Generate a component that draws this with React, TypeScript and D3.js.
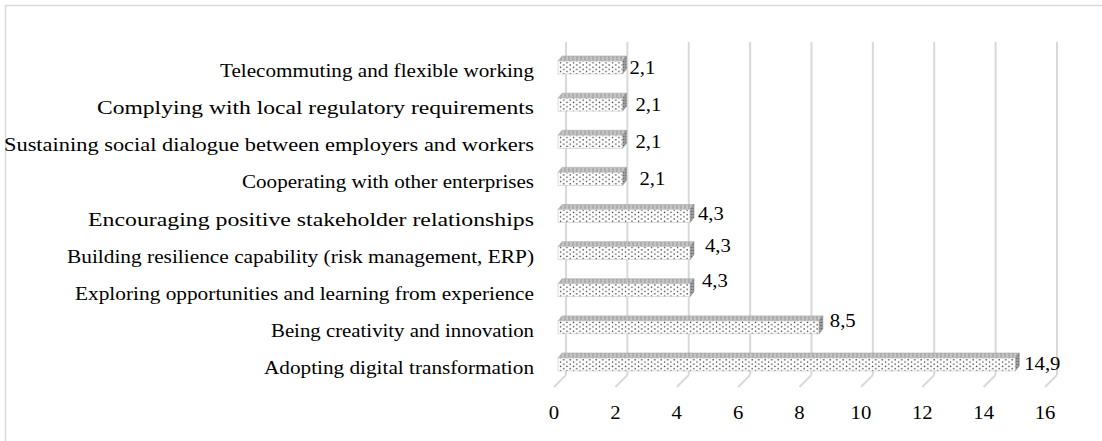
import React from "react";
import * as d3 from "d3";

const categories = [
  "Telecommuting and flexible working",
  "Complying with local regulatory requirements",
  "Sustaining social dialogue between employers and workers",
  "Cooperating with other enterprises",
  "Encouraging positive stakeholder relationships",
  "Building resilience capability (risk management, ERP)",
  "Exploring opportunities and learning from experience",
  "Being creativity and innovation",
  "Adopting digital transformation",
];
const values = [2.1, 2.1, 2.1, 2.1, 4.3, 4.3, 4.3, 8.5, 14.9];
const valueLabels = ["2,1", "2,1", "2,1", "2,1", "4,3", "4,3", "4,3", "8,5", "14,9"];
const ticks = [0, 2, 4, 6, 8, 10, 12, 14, 16];

// Excel drops its 3D labels a bit unevenly, these nudges follow the picture
const labelDx = [7, 13, 13, 17, 8, 15, 12, 11, 9];
const labelDy = [0, 0, 0, 0, -2, -7, -9, -6, -1];
// the category labels in the source are stretched by different amounts
const catWidths = [314, 437, 530, 292, 446, 467, 459, 263, 270];

const W = 1102;
const H = 441;
const wallTop = 42;
const wallBottom = 375;
const depth = 12; // floor depth, drawn as a slant
const frontShift = -8; // bar front plane vs back wall
const barH = 13;
const bx = 4; // bar top/side face offset
const by = -5;
const sx = 1.15; // the source text is stretched horizontally
const font = "'Liberation Serif', 'Times New Roman', serif";

export default function App() {
  const x = d3.scaleLinear().domain([0, 16]).range([566, 1057]);
  const y = d3.scalePoint<string>().domain(categories).range([67.5, 364.5]);

  const label = (
    tx: number,
    ty: number,
    s: string,
    anchor: "start" | "middle" | "end",
    key?: string | number
  ) => (
    <text
      key={key}
      transform={`translate(${tx},${ty}) scale(${sx},1)`}
      textAnchor={anchor}
      fontFamily={font}
      fontSize={18}
      fill="#000"
    >
      {s}
    </text>
  );

  return (
    <svg
      width={W}
      height={H}
      style={{ position: "absolute", left: 0, top: 0, background: "#fff" }}
    >
      <defs>
        <pattern id="front" width="6.5" height="4.4" patternUnits="userSpaceOnUse">
          <rect width="6.5" height="4.4" fill="#fff" />
          <circle cx="1.5" cy="1.2" r="0.75" fill="#333" />
          <circle cx="4.75" cy="3.4" r="0.75" fill="#333" />
        </pattern>
        <pattern id="top" width="4" height="2" patternUnits="userSpaceOnUse">
          <rect width="4" height="2" fill="#c4c4c4" />
          <circle cx="1" cy="1" r="0.6" fill="#666" />
        </pattern>
        <pattern id="side" width="2.5" height="3" patternUnits="userSpaceOnUse">
          <rect width="2.5" height="3" fill="#9c9c9c" />
          <circle cx="1" cy="1.5" r="0.6" fill="#444" />
        </pattern>
      </defs>

      {/* chart area border, runs off the right and bottom */}
      <rect x={5.5} y={5.5} width={W + 20} height={H + 20} fill="none" stroke="#d9d9d9" strokeWidth={1.5} />

      {/* back wall gridlines and floor slants */}
      {ticks.map((t) => (
        <g key={t}>
          <line x1={x(t)} x2={x(t)} y1={wallTop} y2={wallBottom} stroke="#d9d9d9" strokeWidth={2} />
          <line
            x1={x(t)}
            y1={wallBottom}
            x2={x(t) - depth}
            y2={wallBottom + depth}
            stroke="#d9d9d9"
            strokeWidth={2}
          />
        </g>
      ))}

      {/* bars */}
      {categories.map((c, i) => {
        const cy = y(c)!;
        const x0 = x(0) + frontShift;
        const x1 = x(values[i]) + frontShift;
        const y0 = cy - barH / 2;
        const y1 = cy + barH / 2;
        const topFace = `M${x0},${y0} L${x0 + bx},${y0 + by} L${x1 + bx},${y0 + by} L${x1},${y0} Z`;
        const sideFace = `M${x1},${y0} L${x1 + bx},${y0 + by} L${x1 + bx},${y1 + by} L${x1},${y1} Z`;
        return (
          <g key={c}>
            <path d={topFace} fill="url(#top)" stroke="#aaa" strokeWidth={0.6} />
            <path d={sideFace} fill="url(#side)" stroke="#8a8a8a" strokeWidth={0.6} />
            <rect
              x={x0}
              y={y0}
              width={x1 - x0}
              height={barH}
              fill="url(#front)"
              stroke="#c8c8c8"
              strokeWidth={0.6}
            />
          </g>
        );
      })}

      {/* category labels */}
      {categories.map((c, i) => (
        <text
          key={"c" + i}
          x={534 - catWidths[i]}
          y={y(c)! + 9.5}
          textLength={catWidths[i]}
          lengthAdjust="spacingAndGlyphs"
          fontFamily={font}
          fontSize={18}
          fill="#000"
        >
          {c}
        </text>
      ))}

      {/* value labels */}
      {categories.map((c, i) =>
        label(
          x(values[i]) + frontShift + labelDx[i],
          y(c)! + 6 + labelDy[i],
          valueLabels[i],
          "start",
          "v" + i
        )
      )}

      {/* axis tick labels at the front edge of the floor */}
      {ticks.map((t) => label(x(t) - depth, 419, String(t), "middle", "t" + t))}
    </svg>
  );
}
